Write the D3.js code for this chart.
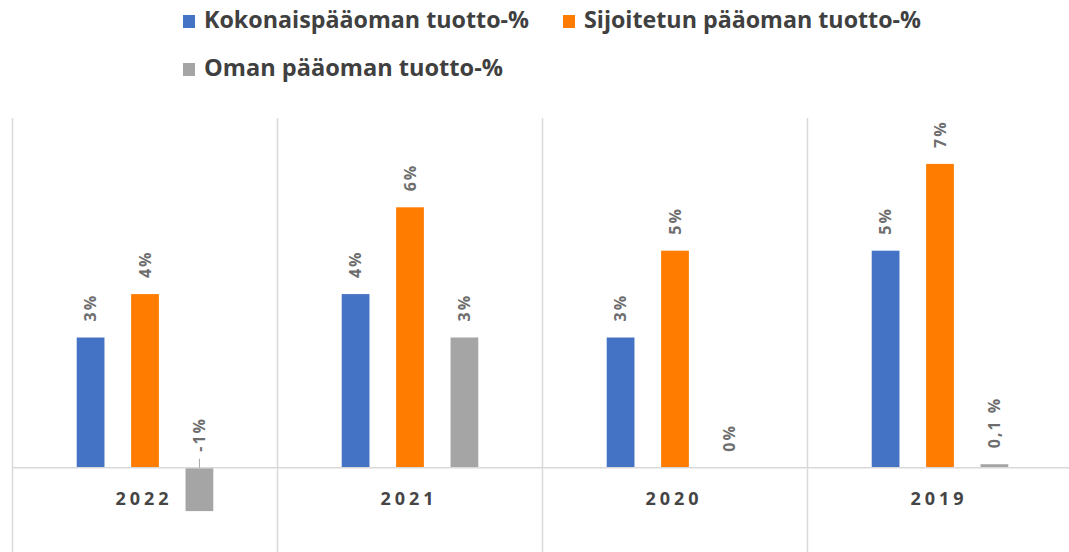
<!DOCTYPE html>
<html>
<head>
<meta charset="utf-8">
<script src="https://cdn.jsdelivr.net/npm/d3@7"></script>
<style>
  body { margin: 0; background: #fff; }
  svg { display: block; font-family: "Open Sans", sans-serif; }
</style>
</head>
<body>
<div id="chart"></div>
<script>
// Data
var years = ['2022', '2021', '2020', '2019'];
var seriesNames = ['Kokonaispääoman tuotto-%', 'Sijoitetun pääoman tuotto-%', 'Oman pääoman tuotto-%'];
var seriesColors = ['#4472c4', '#ff7c00', '#a5a5a5'];
var kokonais = [3, 4, 3, 5];
var sijoitettu = [4, 6, 5, 7];
var oma = [-1, 3, 0, 0.08];
var kokonaisLabels = ['3%', '4%', '3%', '5%'];
var sijoitettuLabels = ['4%', '6%', '5%', '7%'];
var omaLabels = ['-1%', '3%', '0%', '0,1 %'];

var values = [kokonais, sijoitettu, oma];
var labels = [kokonaisLabels, sijoitettuLabels, omaLabels];

var width = 1069, height = 552;

var svg = d3.select('#chart').append('svg')
    .attr('width', width)
    .attr('height', height);

// scales
var x0 = d3.scaleBand()
    .domain(years)
    .range([12.5, 1072.5]);

var x1 = d3.scaleBand()
    .domain(d3.range(seriesNames.length))
    .range([0, x0.bandwidth()])
    .paddingInner(0.49)
    .paddingOuter(1.18);

var y = d3.scaleLinear()
    .domain([-2, 8])
    .range([554.5, 120.5]);

// vertical category separators
var bounds = years.map(function(d) { return x0(d); }).concat([x0(years[years.length - 1]) + x0.bandwidth()]);
svg.append('g')
    .selectAll('line')
    .data(bounds)
    .join('line')
    .attr('x1', function(d) { return d; })
    .attr('x2', function(d) { return d; })
    .attr('y1', 118)
    .attr('y2', height)
    .style('stroke', '#d9d9d9')
    .style('stroke-width', 1.5);

// flatten into bar records
var bars = [];
years.forEach(function(yr, i) {
    values.forEach(function(vals, s) {
        bars.push({year: yr, s: s, v: vals[i], label: labels[s][i]});
    });
});

// bars
svg.append('g')
    .selectAll('rect')
    .data(bars)
    .join('rect')
    .attr('x', function(d) { return x0(d.year) + x1(d.s); })
    .attr('width', x1.bandwidth())
    .attr('y', function(d) { return y(Math.max(0, d.v)); })
    .attr('height', function(d) { return Math.abs(y(d.v) - y(0)); })
    .style('fill', function(d) { return seriesColors[d.s]; });

// zero line
svg.append('line')
    .attr('x1', 12)
    .attr('x2', width)
    .attr('y1', y(0))
    .attr('y2', y(0))
    .style('stroke', '#d9d9d9')
    .style('stroke-width', 1.5);

// leader line for negative values
svg.append('g')
    .selectAll('line')
    .data(bars.filter(function(d) { return d.v < 0; }))
    .join('line')
    .attr('x1', function(d) { return x0(d.year) + x1(d.s) + x1.bandwidth() / 2; })
    .attr('x2', function(d) { return x0(d.year) + x1(d.s) + x1.bandwidth() / 2; })
    .attr('y1', y(0) - 9)
    .attr('y2', y(0))
    .style('stroke', '#a5a5a5')
    .style('stroke-width', 1);

// data labels (rotated)
svg.append('g')
    .selectAll('text')
    .data(bars)
    .join('text')
    .attr('transform', function(d) {
        var cx = x0(d.year) + x1(d.s) + x1.bandwidth() / 2;
        var top = y(Math.max(0, d.v)) - 16;
        return 'translate(' + cx + ',' + top + ') rotate(-90)';
    })
    .attr('dy', '0.35em')
    .style('text-anchor', 'start')
    .style('font-size', '16px')
    .style('font-weight', 'bold')
    .style('letter-spacing', '2px')
    .style('fill', '#6d6d6d')
    .text(function(d) { return d.label; });

// category labels
svg.append('g')
    .selectAll('text')
    .data(years)
    .join('text')
    .attr('x', function(d) { return x0(d) + x0.bandwidth() / 2 - 1; })
    .attr('y', 505)
    .style('text-anchor', 'middle')
    .style('font-size', '18px')
    .style('font-weight', 'bold')
    .style('letter-spacing', '4px')
    .style('fill', '#454545')
    .text(function(d) { return d; });

// legend
var legendPos = [[183, 28], [563, 28], [183, 76]];
var legendLen = [325, 337, 299];
var legend = svg.append('g')
    .selectAll('g')
    .data(seriesNames)
    .join('g')
    .attr('transform', function(d, i) { return 'translate(' + legendPos[i][0] + ',' + legendPos[i][1] + ')'; });

legend.append('rect')
    .attr('x', 0)
    .attr('y', -13)
    .attr('width', 12)
    .attr('height', 13)
    .style('fill', function(d, i) { return seriesColors[i]; });

legend.append('text')
    .attr('x', 21)
    .attr('y', 0)
    .attr('textLength', function(d, i) { return legendLen[i]; })
    .attr('lengthAdjust', 'spacingAndGlyphs')
    .style('font-size', '23px')
    .style('font-weight', 'bold')
    .style('fill', '#404040')
    .text(function(d) { return d; });
</script>
</body>
</html>
